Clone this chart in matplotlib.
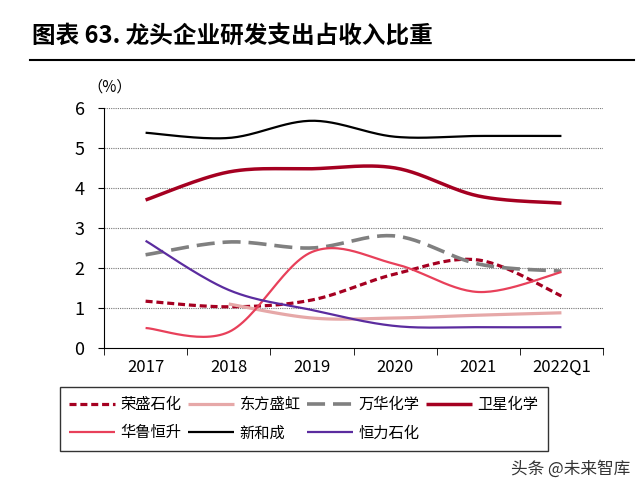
import numpy as np
import matplotlib.pyplot as plt
from matplotlib.lines import Line2D

plt.rcParams['font.family'] = ['Noto Sans CJK SC', 'DejaVu Sans']

years = ['2017', '2018', '2019', '2020', '2021', '2022Q1']
rongsheng = [1.17, 1.03, 1.2, 1.85, 2.2, 1.3]
dongfang = [np.nan, 1.1, 0.75, 0.75, 0.82, 0.88]
wanhua = [2.33, 2.65, 2.5, 2.8, 2.1, 1.92]
weixing = [3.7, 4.4, 4.48, 4.5, 3.8, 3.62]
hualu = [0.5, 0.4, 2.4, 2.1, 1.4, 1.9]
xinhecheng = [5.38, 5.25, 5.68, 5.28, 5.3, 5.3]
hengli = [2.68, 1.45, 0.95, 0.55, 0.52, 0.52]


def smooth(x, y, n=30):
    # excel-like smoothed line (catmull-rom through the points)
    x = np.asarray(x, float)
    y = np.asarray(y, float)
    px = np.concatenate([[x[0]], x, [x[-1]]])
    py = np.concatenate([[y[0]], y, [y[-1]]])
    xs, ys = [], []
    for i in range(1, len(px) - 2):
        p0, p1, p2, p3 = [np.array([px[j], py[j]]) for j in (i - 1, i, i + 1, i + 2)]
        c1 = p1 + (p2 - p0) / 6
        c2 = p2 - (p3 - p1) / 6
        t = np.linspace(0, 1, n)[:, None]
        pts = (1 - t) ** 3 * p1 + 3 * (1 - t) ** 2 * t * c1 + 3 * (1 - t) * t ** 2 * c2 + t ** 3 * p2
        xs.append(pts[:, 0])
        ys.append(pts[:, 1])
    return np.concatenate(xs), np.concatenate(ys)


fig = plt.figure(figsize=(6.4, 4.83), dpi=100)
ax = fig.add_axes([0.1625, 0.2795, 0.7797, 0.497])

series = [
    ('荣盛石化', rongsheng, dict(color='#A50021', lw=2.3, ls=(0, (2.2, 1.2)))),
    ('东方盛虹', dongfang, dict(color='#E6A8A8', lw=2.3)),
    ('万华化学', wanhua, dict(color='#808080', lw=2.6, ls=(0, (5, 2.2)))),
    ('卫星化学', weixing, dict(color='#A50021', lw=2.5)),
    ('华鲁恒升', hualu, dict(color='#E8405A', lw=1.6)),
    ('新和成', xinhecheng, dict(color='black', lw=1.6)),
    ('恒力石化', hengli, dict(color='#5B2C9F', lw=1.6)),
]

handles = {}
for name, vals, style in series:
    v = np.array(vals, float)
    idx = np.arange(len(v))
    ok = ~np.isnan(v)
    sx, sy = smooth(idx[ok], v[ok])
    line, = ax.plot(sx, sy, solid_capstyle='butt', dash_capstyle='butt', **style)
    handles[name] = line

ax.set_xlim(-0.5, 5.5)
ax.set_ylim(0, 6)
ax.set_yticks(range(0, 7))
ax.set_xticks(range(6))
ax.set_xticklabels(years)
ax.set_xticks(np.arange(-0.5, 6, 1), minor=True)
ax.tick_params(axis='x', which='major', length=0, labelsize=12, pad=8)
ax.tick_params(axis='x', which='minor', length=5, direction='out')
ax.tick_params(axis='y', length=4, direction='out', labelsize=13, pad=10)
for y in range(1, 7):
    ax.axhline(y, color='#777777', lw=0.8, ls=(0, (1, 1)), zorder=0)
ax.spines['top'].set_visible(False)
ax.spines['right'].set_visible(False)
ax.text(0.012, 1.05, '（%）', transform=ax.transAxes, fontsize=11, ha='center', va='bottom')

order = ['荣盛石化', '华鲁恒升', '东方盛虹', '新和成', '万华化学', '恒力石化', '卫星化学']
leg = fig.legend([handles[k] for k in order], order, loc='upper left',
                 bbox_to_anchor=(0.082, 0.215), ncol=4, frameon=True, fancybox=False,
                 edgecolor='black', fontsize=11, handlelength=3, columnspacing=0.45,
                 handletextpad=0.35, borderpad=0.6, labelspacing=0.75)
leg.get_frame().set_linewidth(1.0)

fig.text(0.05, 0.927, '图表 63. 龙头企业研发支出占收入比重', fontsize=17, fontweight='bold', va='center')
fig.add_artist(Line2D([0.047, 0.99], [0.876, 0.876], color='black', lw=1.5))
fig.text(0.985, 0.02, '头条 @未来智库', fontsize=12, ha='right', color='#333333')

fig.savefig('out.png', dpi=100)
